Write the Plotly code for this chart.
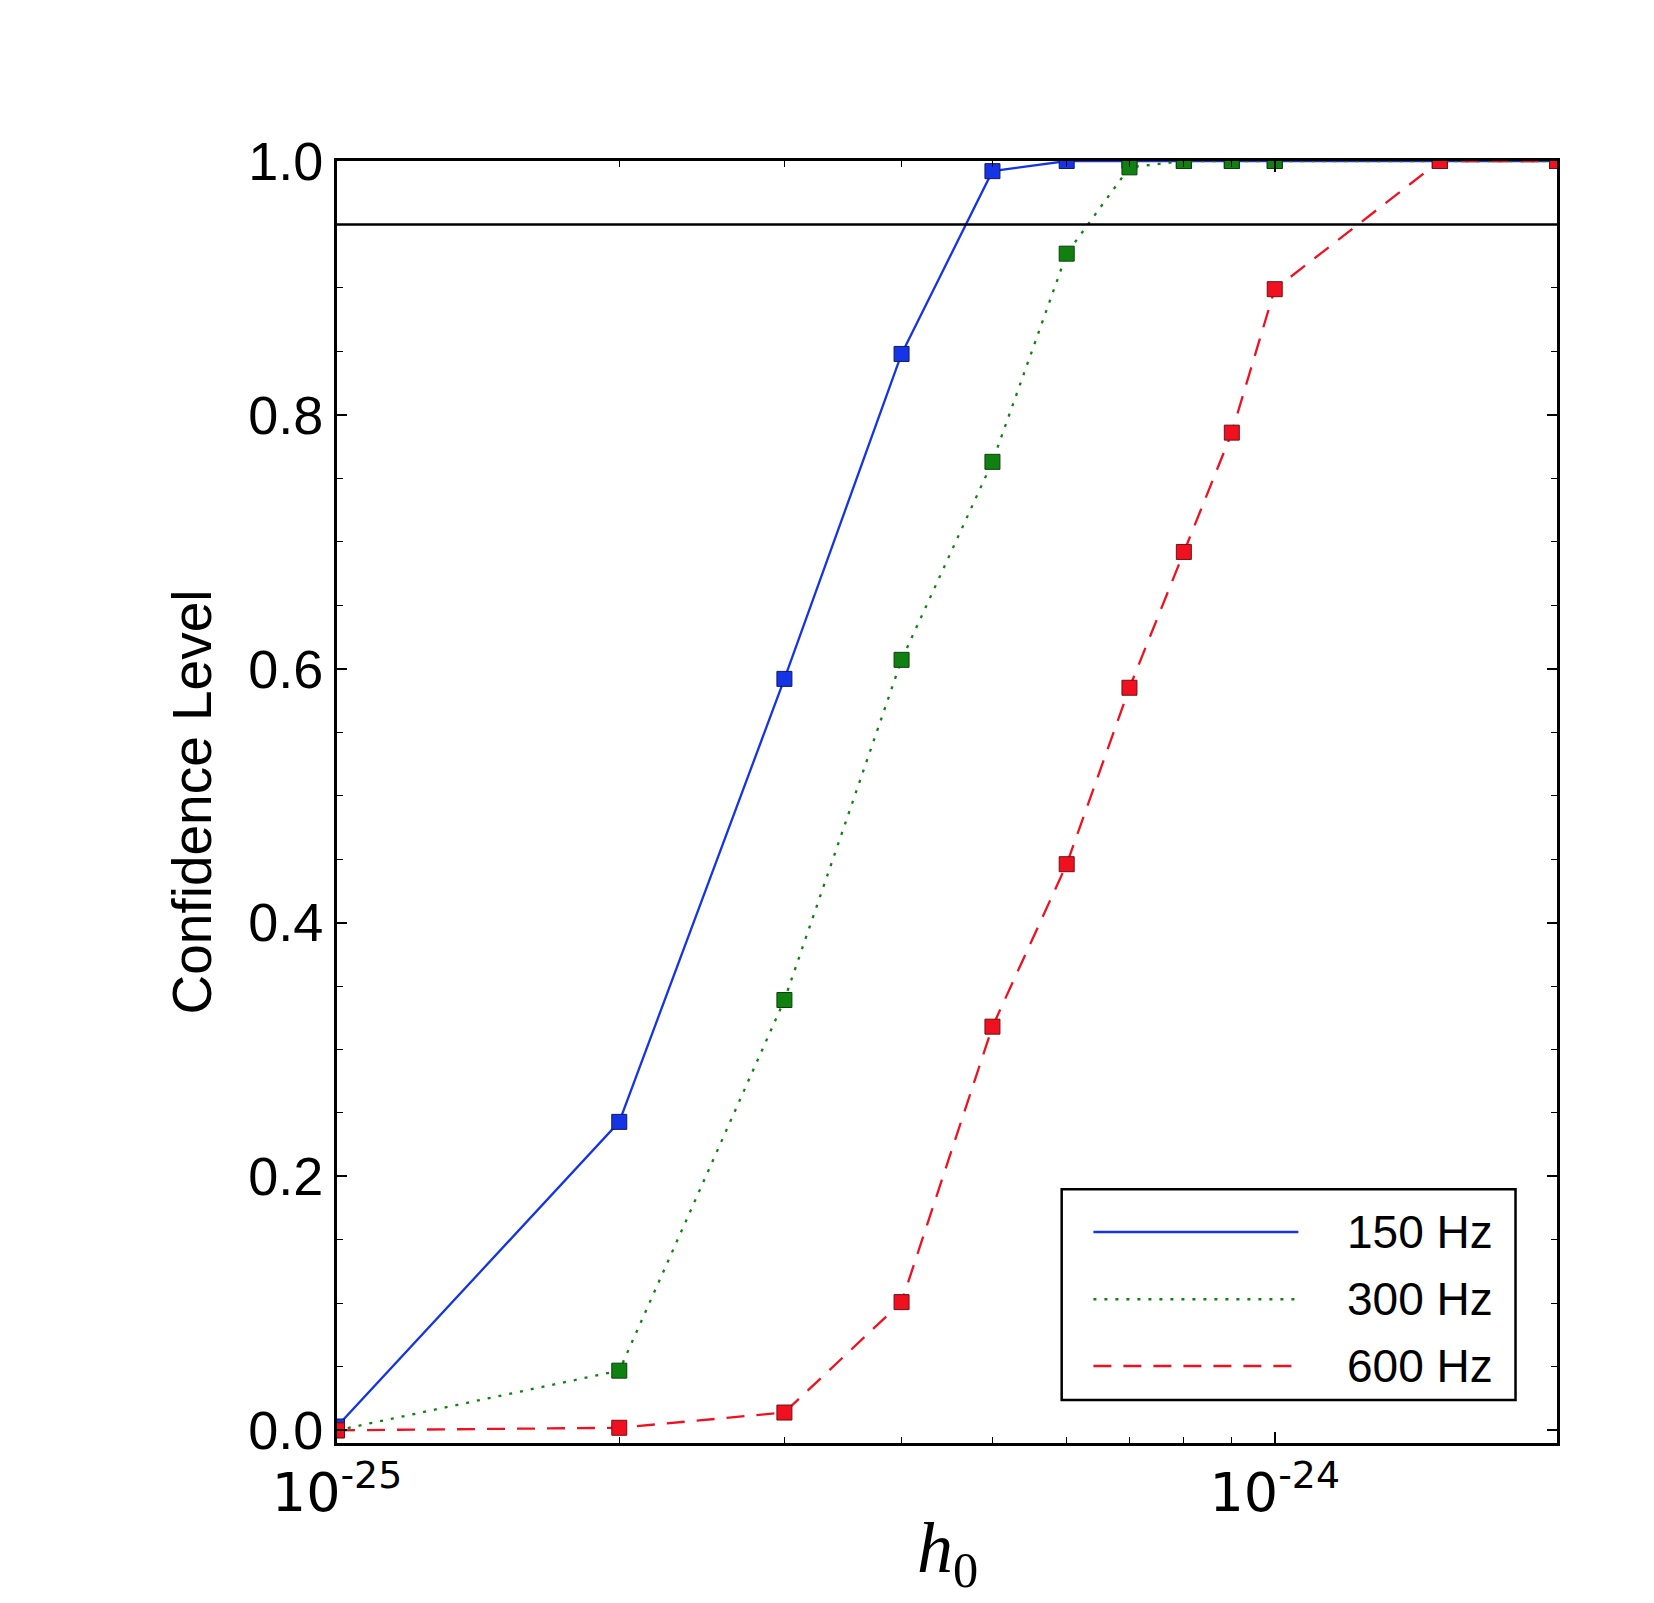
import math
import plotly.graph_objects as go

# h0 sample grid (strain amplitude)
H0 = [1e-25, 2e-25, 3e-25, 4e-25, 5e-25, 6e-25, 7e-25, 8e-25, 9e-25, 1e-24, 1.5e-24, 2e-24]

# confidence level per injected frequency
CL_150 = [0.003, 0.243, 0.592, 0.848, 0.992, 1.0, 1.0, 1.0, 1.0, 1.0, 1.0, 1.0]
CL_300 = [0.0, 0.047, 0.339, 0.607, 0.763, 0.927, 0.995, 1.0, 1.0, 1.0, 1.0, 1.0]
CL_600 = [0.0, 0.002, 0.014, 0.101, 0.318, 0.446, 0.585, 0.692, 0.786, 0.899, 1.0, 1.0]

LABELS = ['150 Hz', '300 Hz', '600 Hz']
COLORS = ['#1434e6', '#108010', '#f01020']
EDGES = ['#101a60', '#0a400a', '#701010']
DASHES = ['solid', '3px,8px', '18px,12px']

THRESHOLD = 0.95

X_TICKS = [1e-25, 1e-24]
X_TICK_TEXT = ['10<sup>-25</sup>', '10<sup>-24</sup>']
X_MINOR = [2e-25, 3e-25, 4e-25, 5e-25, 6e-25, 7e-25, 8e-25, 9e-25, 2e-24]
Y_TICKS = [0.0, 0.2, 0.4, 0.6, 0.8, 1.0]

series = [CL_150, CL_300, CL_600]

fig = go.Figure()
for name, ys, col, edge, dash in zip(LABELS, series, COLORS, EDGES, DASHES):
    fig.add_trace(go.Scatter(x=H0, y=ys, mode='lines', name=name, showlegend=False,
                             line=dict(color=col, width=2.3, dash=dash)))
    fig.add_trace(go.Scatter(x=H0, y=ys, mode='markers', showlegend=False,
                             marker=dict(symbol='square', size=15, color=col,
                                         line=dict(color=edge, width=1))))

# 95% line
fig.add_shape(type='line', xref='paper', x0=0, x1=1, yref='y', y0=THRESHOLD, y1=THRESHOLD,
              line=dict(color='black', width=2.5))

# legend box drawn by hand so the sample lines can be long like the original
fig.add_shape(type='rect', xref='paper', yref='paper', x0=0.594, x1=0.966, y0=0.0335, y1=0.198,
              line=dict(color='black', width=2.5), fillcolor='white', layer='above')
leg_y = [0.1645, 0.1122, 0.060]
for name, col, dash, ly in zip(LABELS, COLORS, DASHES, leg_y):
    fig.add_shape(type='line', xref='paper', yref='paper', x0=0.620, x1=0.788, y0=ly, y1=ly,
                  line=dict(color=col, width=2.5, dash=dash), layer='above')
    fig.add_annotation(xref='paper', yref='paper', x=0.826, y=ly, text=name, showarrow=False,
                       xanchor='left', yanchor='middle',
                       font=dict(family='Liberation Sans', size=46, color='black'))

# x label sits a bit closer to the ticks than plotly's axis title allows
fig.add_annotation(xref='paper', yref='paper', x=0.5, y=-0.086, text='<i>h</i><sub>0</sub>',
                   showarrow=False, xanchor='center', yanchor='middle',
                   font=dict(family='Liberation Serif', size=72, color='black'))

fig.update_xaxes(
    type='log',
    range=[math.log10(H0[0]), math.log10(H0[-1])],
    tickvals=X_TICKS, ticktext=X_TICK_TEXT,
    ticks='inside', ticklen=11, tickwidth=1.5, tickcolor='black',
    minor=dict(tickvals=X_MINOR, ticks='inside', ticklen=6, tickwidth=1.2, tickcolor='black'),
    showline=True, linecolor='black', linewidth=2.8, mirror='allticks',
    showgrid=False, zeroline=False,
    tickfont=dict(family='DejaVu Sans', size=54, color='black'),
)
fig.update_yaxes(
    range=[-0.01, 1.0],
    tickvals=Y_TICKS, tickformat='.1f',
    ticks='inside', ticklen=10, tickwidth=1.5, tickcolor='black',
    minor=dict(dtick=0.05, ticks='inside', ticklen=6, tickwidth=1.2, tickcolor='black'),
    showline=True, linecolor='black', linewidth=2.8, mirror='allticks',
    showgrid=False, zeroline=False,
    tickfont=dict(family='Liberation Sans', size=54, color='black'),
    title=dict(text='Confidence Level', standoff=19,
               font=dict(family='Liberation Sans', size=55, color='black')),
)

fig.update_layout(
    width=1654, height=1603,
    margin=dict(l=329, r=105, t=153, b=168),
    paper_bgcolor='white', plot_bgcolor='white',
    showlegend=False,
)

fig.write_html('out.html')
